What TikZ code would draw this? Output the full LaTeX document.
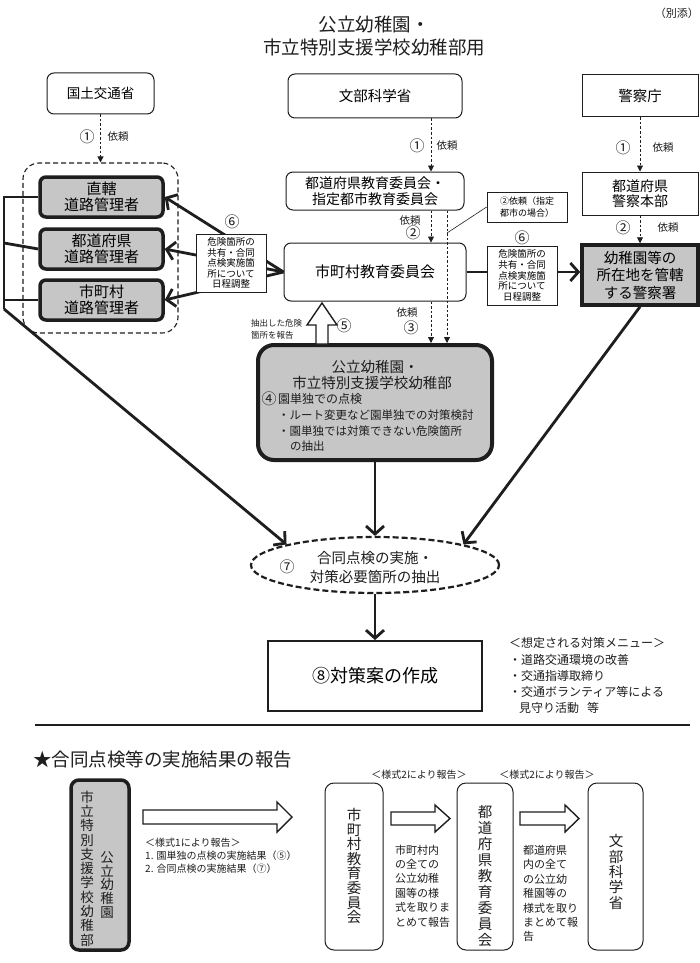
\documentclass[tikz,border=0pt]{standalone}
\usepackage{fontspec}
\setmainfont{Noto Sans CJK JP}
\usetikzlibrary{arrows.meta,shapes.geometric,calc}
\definecolor{ink}{RGB}{30,30,30}
\definecolor{boxgray}{RGB}{198,198,198}
\newcommand{\jf}[2]{\fontsize{#1}{#2}\selectfont}
\begin{document}
\begin{tikzpicture}[x=1pt,y=-1pt,
 plainbox/.style={draw=ink,line width=1pt,rounded corners=7pt,fill=white,inner sep=0pt,align=center},
 sqbox/.style={draw=ink,line width=1pt,fill=white,inner sep=0pt,align=center},
 roadbox/.style={draw=ink,line width=3.5pt,rounded corners=6pt,fill=boxgray,inner sep=0pt,align=center,minimum width=123pt,minimum height=40pt,font=\jf{15}{16.5}},
 txt/.style={inner sep=0pt,align=center,text=ink},
 dasharrow/.style={draw=ink,line width=0.8pt,dash pattern=on 2.5pt off 2pt,-{Triangle[length=6pt,width=6pt]}},
 bigarrow/.style={draw=ink,line width=2.8pt,-{Straight Barb[length=8pt,width=18pt]}},
 thickline/.style={draw=ink,line width=2.8pt},
 sixbox/.style={sqbox,minimum width=70pt,font=\jf{9.5}{10.6}},
 hollow/.style={draw=ink,line width=1.4pt,fill=white,line join=miter},
 vbox/.style={draw=ink,line width=1pt,rounded corners=9pt,fill=white,inner sep=0pt,minimum height=167pt},
 circnum/.style={txt,font=\jf{15}{17}},
 small/.style={txt,font=\jf{10.5}{12}}
]
\useasboundingbox (0,0) rectangle (700,963);
\fill[white] (0,0) rectangle (700,963);

% title
\node[txt,font=\jf{18.5}{22}] (title1) at (374,25) {公立幼稚園・};
\node[txt,font=\jf{18.5}{22}] (title2) at (374,47) {市立特別支援学校幼稚部用};
\node[txt,font=\jf{11}{13},anchor=east] (betten) at (699,13) {（別添）};

% top boxes
\node[plainbox,minimum width=107pt,minimum height=41pt,font=\jf{13.5}{16}] (kokudo) at (100.5,93.5) {国土交通省};
\node[plainbox,minimum width=174pt,minimum height=44pt,font=\jf{14.5}{17}] (monka) at (375,96) {文部科学省};
\node[sqbox,minimum width=116pt,minimum height=42pt,font=\jf{14.5}{17}] (keisatsu) at (640,96) {警察庁};

% road managers
\node[draw=ink,line width=1.1pt,dash pattern=on 5pt off 3pt,rounded corners=16pt,minimum width=155pt,minimum height=170pt,inner sep=0pt] (group) at (100.5,248) {};
\node[roadbox] (chokkatsu) at (101.5,197) {直轄\\道路管理者};
\node[roadbox] (todoroad) at (101.5,249) {都道府県\\道路管理者};
\node[roadbox] (shiroad) at (101.5,300) {市町村\\道路管理者};

% middle column
\node[plainbox,minimum width=178pt,minimum height=38pt,font=\jf{14}{16}] (todo) at (375,191) {都道府県教育委員会・\\指定都市教育委員会};
\node[plainbox,minimum width=182pt,minimum height=58pt,font=\jf{15}{17}] (shicho) at (375,272) {市町村教育委員会};
\node[sqbox,line width=0.8pt,minimum width=80pt,minimum height=30pt,font=\jf{9}{11.5}] (shitei) at (527,207) {②依頼（指定\\都市の場合）};

% right column
\node[sqbox,minimum width=116pt,minimum height=43pt,font=\jf{14}{15.5}] (kenkei) at (640,193.5) {都道府県\\警察本部};
\node[draw=ink,line width=3.5pt,fill=boxgray,inner sep=0pt,align=center,minimum width=116pt,minimum height=60pt,font=\jf{14.5}{17.5}] (police) at (640,275) {幼稚園等の\\所在地を管轄\\する警察署};

% main kindergarten box
\node[draw=ink,line width=4pt,rounded corners=16pt,fill=boxgray,inner sep=0pt,minimum width=234pt,minimum height=115pt] (mainbox) at (375,402.5) {};
\node[txt,font=\jf{14.5}{17}] (mt1) at (375,367) {公立幼稚園・};
\node[txt,font=\jf{14.5}{17}] (mt2) at (372,383) {市立特別支援学校幼稚部};
\node[circnum] (c4) at (269,399) {④};
\node[txt,font=\jf{12}{14},anchor=west] (mt3) at (278,399) {園単独での点検};
\node[txt,font=\jf{11.5}{14},anchor=west] (mt4) at (278,415) {・ルート変更など園単独での対策検討};
\node[txt,font=\jf{11.5}{14},anchor=west] (mt5) at (278,431) {・園単独では対策できない危険箇所};
\node[txt,font=\jf{11.5}{14},anchor=west] (mt6) at (290,446) {の抽出};

% ellipse and plan
\node[ellipse,draw=ink,line width=2.2pt,dash pattern=on 6pt off 3pt,minimum width=248pt,minimum height=56pt,inner sep=0pt,fill=white] (ell) at (375,565) {};
\node[circnum] (c7) at (287,567) {⑦};
\node[txt,font=\jf{14.5}{19}] (elltext) at (375,567.5) {合同点検の実施・\\対策必要箇所の抽出};
\node[sqbox,line width=2pt,minimum width=214pt,minimum height=70pt,font=\jf{18}{21}] (plan) at (375,676) {⑧対策案の作成};

% menu
\node[txt,font=\jf{12}{14},anchor=west] (menu1) at (509,643) {＜想定される対策メニュー＞};
\node[txt,font=\jf{12}{14},anchor=west] (menu2) at (509,660) {・道路交通環境の改善};
\node[txt,font=\jf{12}{14},anchor=west] (menu3) at (509,676) {・交通指導取締り};
\node[txt,font=\jf{12}{14},anchor=west] (menu4) at (509,692) {・交通ボランティア等による};
\node[txt,font=\jf{12}{14},anchor=west] (menu5) at (519,708) {見守り活動\hspace{8pt}等};

% dashed request arrows
\draw[dasharrow] (kokudo.south) -- (group.north);
\draw[dasharrow] ([xshift=56pt]monka.south) -- ([xshift=56pt]todo.north);
\draw[dasharrow] ([xshift=56pt]todo.south) -- ([xshift=56pt]shicho.north);
\draw[dasharrow] ([xshift=72pt]todo.south) -- ([xshift=72pt]mainbox.north);
\draw[dasharrow] ([xshift=56pt]shicho.south) -- ([xshift=56pt]mainbox.north);
\draw[dasharrow] (keisatsu.south) -- (kenkei.north);
\draw[dasharrow] (kenkei.south) -- (police.north);
\coordinate (sp) at (447,233);
\draw[draw=ink,line width=0.6pt] (shitei.west) -- (sp);

% request labels
\node[circnum] (c1a) at (87,137) {①};
\node[small] (r1a) at (118,137) {依頼};
\node[circnum] (c1b) at (417,146) {①};
\node[small] (r1b) at (447,146) {依頼};
\node[circnum] (c1c) at (623,148) {①};
\node[small] (r1c) at (663,148) {依頼};
\node[small] (r2a) at (410,221) {依頼};
\node[circnum] (c2a) at (413,233) {②};
\node[circnum] (c2b) at (623,228) {②};
\node[small] (r2b) at (668,228) {依頼};
\node[small] (r3) at (407,313) {依頼};
\node[circnum] (c3) at (411,328) {③};

% left connector lines
\coordinate (vbot) at (4,309);
\coordinate (vmid) at (4,243);
\draw[thickline,line join=miter] (chokkatsu.west) -| (vbot);
\draw[thickline] (vmid) -- (todoroad.west);
\draw[thickline] (shiroad.west -| vbot) -- (shiroad.west);

% fan arrows to road managers
\draw[bigarrow] (shicho.west) -- (chokkatsu.east);
\draw[bigarrow] (shicho.west) -- (todoroad.east);
\draw[bigarrow] (shicho.west) -- (shiroad.east);
\draw[bigarrow] (shicho.east) -- (shicho.east -| police.west);

% arrows to joint inspection
\draw[bigarrow] (vbot) -- (ell.north west);
\draw[bigarrow] (mainbox.south) -- (ell.north);
\draw[bigarrow] (police.south) -- (ell.north east);
\draw[bigarrow] (ell.south) -- (plan.north);

% six boxes
\node[circnum] (c6a) at (232,222) {⑥};
\node[sixbox,minimum height=58pt] (six1) at (231,263) {危険箇所の\\共有・合同\\点検実施箇\\所について\\日程調整};
\node[circnum] (c6b) at (522,238) {⑥};
\node[sixbox,minimum height=59pt] (six2) at (522,275.5) {危険箇所の\\共有・合同\\点検実施箇\\所について\\日程調整};

% report arrow 5
\draw[hollow] (316,344) -- (316,325) -- (307,325) -- (322,303) -- (337,325) -- (328,325) -- (328,344) -- cycle;
\node[circnum] (c5) at (344,326) {⑤};
\node[txt,font=\jf{8.5}{12},anchor=west,align=left] (rep5) at (251,329) {抽出した危険\\箇所を報告};

% separator
\draw[draw=ink,line width=1.2pt] (35,725) -- (690,725);

% bottom section
\node[txt,font=\jf{18.5}{22},anchor=west] (star) at (33,759) {★合同点検等の実施結果の報告};
\node[draw=ink,line width=3.5pt,rounded corners=8pt,fill=boxgray,inner sep=0pt,minimum width=58pt,minimum height=170pt] (kinder) at (100,865) {};
\node[txt,font=\jf{13.5}{14.3}] (kinderB) at (87,868.5) {市\\立\\特\\別\\支\\援\\学\\校\\幼\\稚\\部};
\node[txt,font=\jf{13.5}{13.8}] (kinderA) at (107,885) {公\\立\\幼\\稚\\園};

\node[vbox,minimum width=58pt] (b1) at (354,866.5) {};
\node[txt,font=\jf{14.5}{14.6}] (b1t) at (354,866) {市\\町\\村\\教\\育\\委\\員\\会};
\node[vbox,minimum width=56pt] (b2) at (485,866.5) {};
\node[txt,font=\jf{14.5}{16}] (b2t) at (485,876) {都\\道\\府\\県\\教\\育\\委\\員\\会};
\node[vbox,minimum width=55pt] (b3) at (615.5,866.5) {};
\node[txt,font=\jf{14.5}{15.3}] (b3t) at (616,872) {文\\部\\科\\学\\省};

\draw[hollow] (143,810) -- (277,810) -- (277,802) -- (292,817) -- (277,832) -- (277,824) -- (143,824) -- cycle;
\draw[hollow] (391,812) -- (435,812) -- (435,805) -- (450,818.5) -- (435,832) -- (435,825) -- (391,825) -- cycle;
\draw[hollow] (520,812) -- (565,812) -- (565,805) -- (579,818.5) -- (565,832) -- (565,825) -- (520,825) -- cycle;

\node[txt,font=\jf{10}{12},anchor=west] (f1a) at (145,843) {＜様式1により報告＞};
\node[txt,font=\jf{10}{12},anchor=west] (f1b) at (145,856) {1. 園単独の点検の実施結果（⑤）};
\node[txt,font=\jf{10}{12},anchor=west] (f1c) at (145,869) {2. 合同点検の実施結果（⑦）};
\node[txt,font=\jf{10}{12}] (f2a) at (419,775) {＜様式2により報告＞};
\node[txt,font=\jf{10}{12}] (f2b) at (547,775) {＜様式2により報告＞};
\node[txt,font=\jf{11}{14.4},anchor=west,align=left] (sum1) at (395,886) {市町村内\\の全ての\\公立幼稚\\園等の様\\式を取りま\\とめて報告};
\node[txt,font=\jf{11}{14.4},anchor=west,align=left] (sum2) at (523,893.5) {都道府県\\内の全て\\の公立幼\\稚園等の\\様式を取り\\まとめて報\\告};
\end{tikzpicture}
\end{document}
